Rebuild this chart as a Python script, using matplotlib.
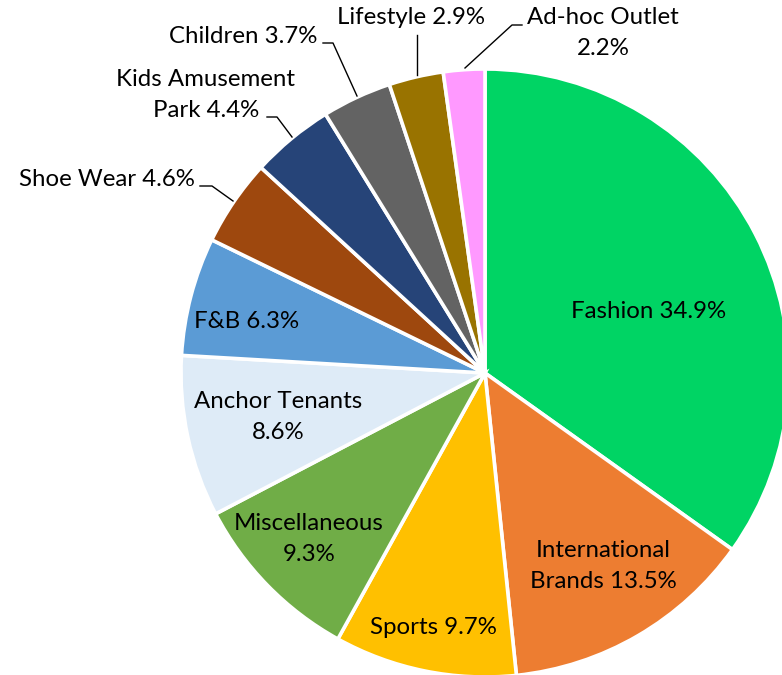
import matplotlib
matplotlib.use("Agg")
import matplotlib.pyplot as plt

categories = ["Fashion", "International Brands", "Sports", "Miscellaneous",
              "Anchor Tenants", "F&B", "Shoe Wear", "Kids Amusement Park",
              "Children", "Lifestyle", "Ad-hoc Outlet"]
shares = [34.9, 13.5, 9.7, 9.3, 8.6, 6.3, 4.6, 4.4, 3.7, 2.9, 2.2]
colors = ["#00D464", "#ED7D31", "#FFC000", "#70AD47", "#DEEBF7", "#5B9BD5",
          "#9E480E", "#264478", "#636363", "#997300", "#FF99FF"]

W, H = 782, 675
CX, CY, R = 485, 373, 304


def px(x, y):
    # pixel position (origin top-left) -> data units of the unit pie
    return (x - CX) / R, (CY - y) / R


plt.rcParams["font.family"] = ["Lato", "DejaVu Sans"]
fig = plt.figure(figsize=(W / 100, H / 100), dpi=100)
ax = fig.add_axes([0, 0, 1, 1])
ax.pie(shares, colors=colors, startangle=90, counterclock=False,
       radius=1, center=(0, 0),
       wedgeprops=dict(edgecolor="white", linewidth=2.6))
x0, y0 = px(0, H)
x1, y1 = px(W, 0)
ax.set_xlim(x0, x1)
ax.set_ylim(y0, y1)
ax.set_aspect("equal")
ax.axis("off")

fs = 17.3


def label(i, text, x, y, ha="center"):
    ax.text(*px(x, y), text.format(shares[i]), ha=ha, va="center",
            fontsize=fs, color="black", linespacing=1.62)


# labels inside the wedges
label(0, "Fashion {}%", 649, 312)
label(1, "International\nBrands {}%", 603, 566)
label(2, "Sports {}%", 433, 628)
label(3, "Miscellaneous\n{}%", 309, 539)
label(4, "Anchor Tenants\n{}%", 278, 417)
label(5, "F&B {}%", 247, 322)

# outside labels with leader lines
label(6, "Shoe Wear {}%", 195, 180, ha="right")
label(7, "Kids Amusement\nPark {}%", 206, 95)
label(8, "Children {}%", 317, 37, ha="right")
label(9, "Lifestyle {}%", 411, 18)
label(10, "Ad-hoc Outlet\n{}%", 603, 33)

leaders = [
    [(200, 186), (212, 186), (233, 201)],
    [(267, 117), (277, 117), (292, 137)],
    [(323, 43), (333, 43), (357, 96)],
    [(417, 35), (417, 75)],
    [(522, 25), (512, 25), (465, 68)],
]
for pts in leaders:
    xs, ys = zip(*[px(x, y) for x, y in pts])
    ax.plot(xs, ys, color="black", linewidth=1.0)

fig.savefig("out.png", dpi=100, facecolor="white")
